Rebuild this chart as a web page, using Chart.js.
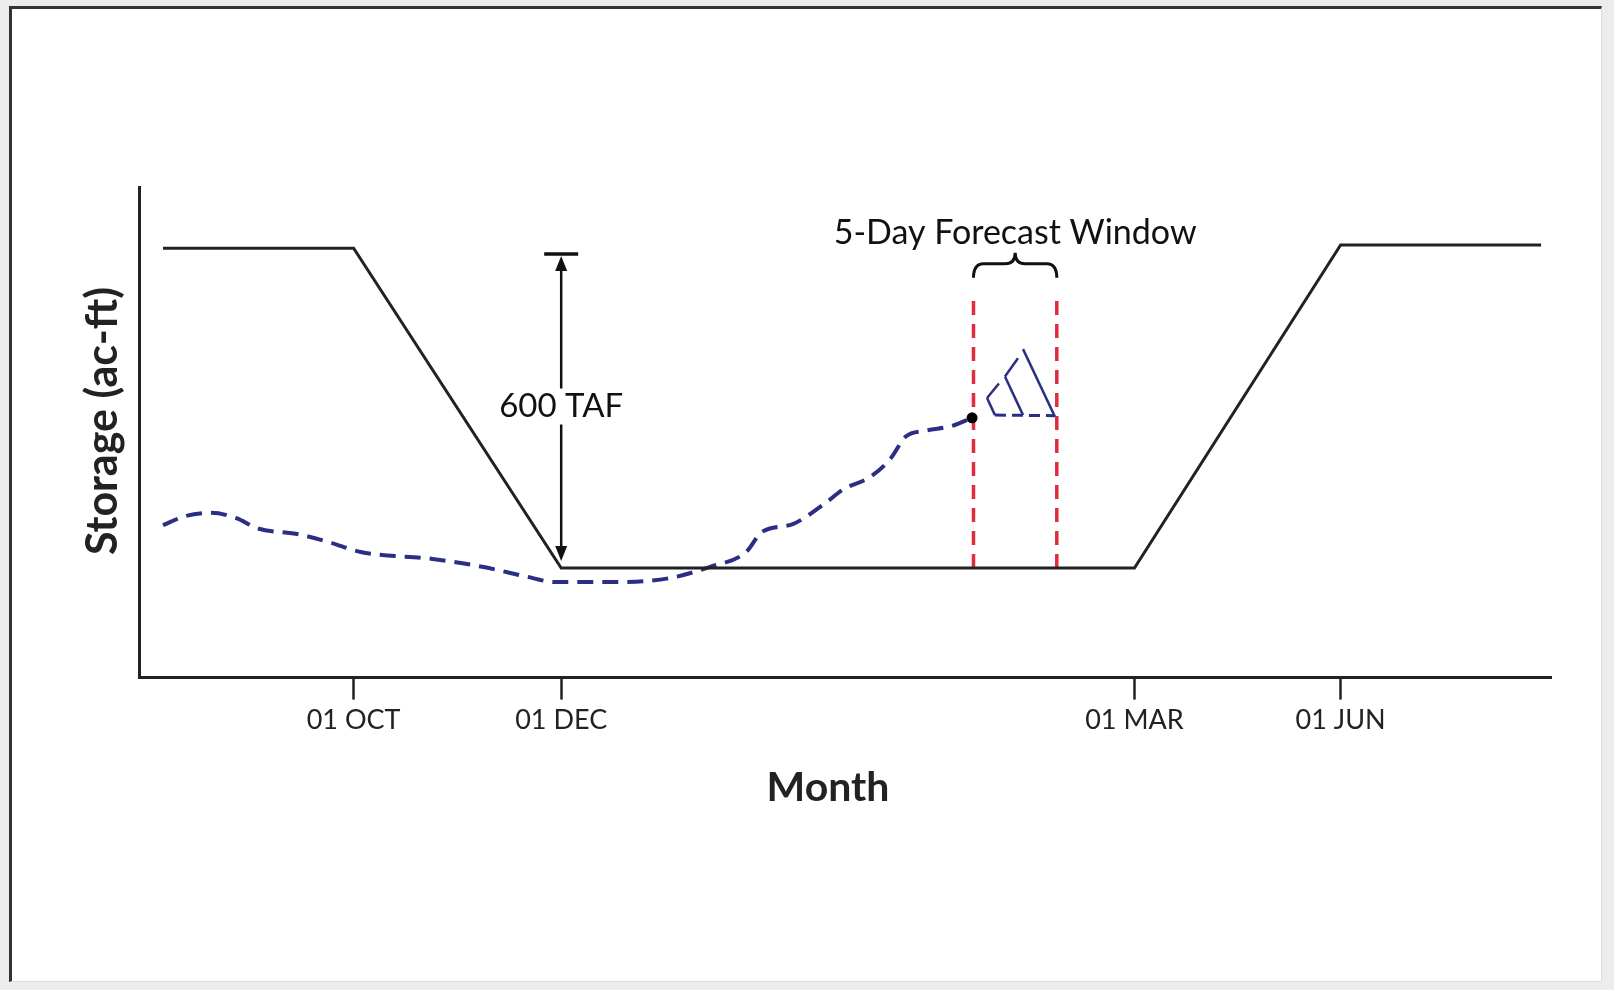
<!DOCTYPE html>
<html lang="en">
<head>
<meta charset="UTF-8">
<title>Storage by Month</title>
<script src="https://cdn.jsdelivr.net/npm/chart.js"></script>
<style>
    body {
        margin: 0;
        background: #ececec;
        width: 1614px;
        height: 990px;
        overflow: hidden;
        position: relative;
    }
    .frame {
        position: absolute;
        left: 9px;
        top: 6px;
        width: 1589px;
        height: 972px;
        background: #fff;
        border-top: 3px solid #333;
        border-left: 3px solid #333;
        border-right: 1px solid #ddd;
        border-bottom: 1px solid #ddd;
    }
    canvas {
        position: absolute;
        left: 0;
        top: 0;
    }
</style>
</head>
<body>
<div class="frame"></div>
<canvas id="storageChart" width="1614" height="990"></canvas>
<script>
    // x runs 0..100 across the (schematic) water year, y is storage in TAF
    const tickPos = [15.2, 29.9, 70.5, 85.1];
    const tickLabels = ['01 OCT', '01 DEC', '01 MAR', '01 JUN'];
    const xTitle = 'Month';
    const yTitle = 'Storage (ac-ft)';

    // flood control rule curve
    const ruleX = [1.7, 15.2, 29.9, 70.5, 85.1, 99.3];
    const ruleY = [800, 800, 204, 204, 806, 806];

    // observed storage (dashed)
    const obsX = [1.7, 3.3, 5.1, 6.9, 8.4, 11.3, 13.5, 15.7, 20.8, 24.4, 27.3, 29.5, 33.9, 37.5, 40.4, 43.0, 44.1, 46.3, 48.4, 49.9, 51.8, 53.2, 54.3, 55.7, 57.6, 59.0];
    const obsY = [284, 301, 307, 297, 278, 267, 252, 234, 221, 206, 189, 178, 178, 185, 206, 234, 271, 286, 321, 351, 374, 407, 449, 460, 469, 484];

    // 5-day forecast window edges
    const windowX = [59.1, 65.0];
    const windowY = [204, 715];

    // forecast traces inside the window
    const fanX = [[60.06, 60.9], [60.06, 60.62], [61.33, 62.25], [61.33, 62.61], [62.61, 64.87]];
    const fanY = [[521, 548], [521, 489], [561, 595], [561, 489], [612, 486]];
    const baseX = [60.62, 64.87];
    const baseY = [489, 488];

    const pairs = (xs, ys) => xs.map((x, i) => ({ x: x, y: ys[i] }));

    const ink = '#222';
    const navy = '#2b2e85';
    const red = '#e02c3c';

    const datasets = [
        {
            label: 'Current',
            data: [{ x: obsX[obsX.length - 1], y: obsY[obsY.length - 1] }],
            pointRadius: 5.5,
            pointBackgroundColor: '#000',
            pointBorderWidth: 0,
            showLine: false
        },
        {
            label: 'Rule curve',
            data: pairs(ruleX, ruleY),
            borderColor: ink,
            borderWidth: 3,
            pointRadius: 0,
            showLine: true
        },
        {
            label: 'Observed',
            data: pairs(obsX, obsY),
            borderColor: navy,
            borderWidth: 4,
            borderDash: [16, 9],
            pointRadius: 0,
            showLine: true,
            cubicInterpolationMode: 'monotone'
        },
        {
            label: 'Forecast base',
            data: pairs(baseX, baseY),
            borderColor: navy,
            borderWidth: 3,
            borderDash: [11, 6],
            pointRadius: 0,
            showLine: true
        }
    ];

    windowX.forEach(function (x) {
        datasets.push({
            label: 'Window',
            data: [{ x: x, y: windowY[0] }, { x: x, y: windowY[1] }],
            borderColor: red,
            borderWidth: 3.5,
            borderDash: [14, 9],
            pointRadius: 0,
            showLine: true
        });
    });

    fanX.forEach(function (xs, i) {
        datasets.push({
            label: 'Forecast',
            data: pairs(xs, fanY[i]),
            borderColor: navy,
            borderWidth: 2.5,
            pointRadius: 0,
            showLine: true
        });
    });

    // annotations: 600 TAF arrow, brace, window caption, axis titles
    const annotations = {
        id: 'annotations',
        afterDatasetsDraw(chart) {
            const ctx = chart.ctx;
            const xs = chart.scales.x;
            const ys = chart.scales.y;
            const area = chart.chartArea;
            ctx.save();
            ctx.strokeStyle = '#111';
            ctx.fillStyle = '#111';

            // 600 TAF arrow
            const ax = xs.getPixelForValue(tickPos[1]);
            const top = ys.getPixelForValue(789);
            const bot = ys.getPixelForValue(204);
            ctx.lineWidth = 2.5;
            ctx.beginPath();
            ctx.moveTo(ax, top + 10);
            ctx.lineTo(ax, bot - 12);
            ctx.stroke();
            ctx.lineWidth = 3.5;
            ctx.beginPath();
            ctx.moveTo(ax - 17, top);
            ctx.lineTo(ax + 17, top);
            ctx.stroke();
            ctx.beginPath();
            ctx.moveTo(ax, top + 2);
            ctx.lineTo(ax - 6, top + 17);
            ctx.lineTo(ax + 6, top + 17);
            ctx.closePath();
            ctx.fill();
            ctx.beginPath();
            ctx.moveTo(ax, bot - 7);
            ctx.lineTo(ax - 6, bot - 22);
            ctx.lineTo(ax + 6, bot - 22);
            ctx.closePath();
            ctx.fill();

            ctx.font = '33px Lato';
            ctx.textAlign = 'center';
            ctx.textBaseline = 'middle';
            const ly = ys.getPixelForValue(505);
            const tw = ctx.measureText('600 TAF').width;
            ctx.fillStyle = '#fff';
            ctx.fillRect(ax - tw / 2 - 2, ly - 18, tw + 4, 36);
            ctx.fillStyle = '#111';
            ctx.fillText('600 TAF', ax, ly);

            // brace over the forecast window
            const x1 = xs.getPixelForValue(windowX[0]);
            const x2 = xs.getPixelForValue(windowX[1]);
            const xm = (x1 + x2) / 2;
            const yEnd = ys.getPixelForValue(745);
            const yMid = yEnd - 14;
            const yTip = yEnd - 25;
            ctx.lineWidth = 3;
            ctx.beginPath();
            ctx.moveTo(x1, yEnd);
            ctx.quadraticCurveTo(x1, yMid, x1 + 10, yMid);
            ctx.lineTo(xm - 10, yMid);
            ctx.quadraticCurveTo(xm, yMid, xm, yTip);
            ctx.quadraticCurveTo(xm, yMid, xm + 10, yMid);
            ctx.lineTo(x2 - 10, yMid);
            ctx.quadraticCurveTo(x2, yMid, x2, yEnd);
            ctx.stroke();

            ctx.font = '34px Lato';
            ctx.fillText('5-Day Forecast Window', xm, ys.getPixelForValue(828));

            // axis titles (the original sits a little off-centre)
            ctx.fillStyle = ink;
            ctx.font = 'bold 41px Lato';
            ctx.fillText(xTitle, area.left + (area.right - area.left) * 0.488, area.bottom + 110);
            ctx.translate(area.left - 36, area.top + (area.bottom - area.top) * 0.477);
            ctx.rotate(-Math.PI / 2);
            ctx.font = 'bold 43px Lato';
            ctx.fillText(yTitle, 0, 0);
            ctx.restore();
        }
    };

    new Chart(document.getElementById('storageChart'), {
        type: 'scatter',
        data: { datasets: datasets },
        options: {
            responsive: false,
            animation: false,
            layout: { padding: { left: 139, top: 187, right: 63, bottom: 250 } },
            plugins: {
                legend: { display: false },
                tooltip: { enabled: false }
            },
            scales: {
                x: {
                    type: 'linear',
                    min: 0,
                    max: 100,
                    afterBuildTicks: function (scale) {
                        scale.ticks = tickPos.map(v => ({ value: v }));
                    },
                    ticks: {
                        autoSkip: false,
                        maxRotation: 0,
                        padding: 4,
                        color: ink,
                        font: { family: 'Lato', size: 27 },
                        callback: v => tickLabels[tickPos.indexOf(v)]
                    },
                    grid: {
                        drawOnChartArea: false,
                        drawTicks: true,
                        tickLength: 22,
                        tickWidth: 2.5,
                        tickColor: ink
                    },
                    border: { color: ink, width: 3 }
                },
                y: {
                    min: 0,
                    max: 914,
                    ticks: { display: false },
                    grid: { display: false, drawTicks: false },
                    border: { color: ink, width: 3 }
                }
            }
        },
        plugins: [annotations]
    });
</script>
</body>
</html>
